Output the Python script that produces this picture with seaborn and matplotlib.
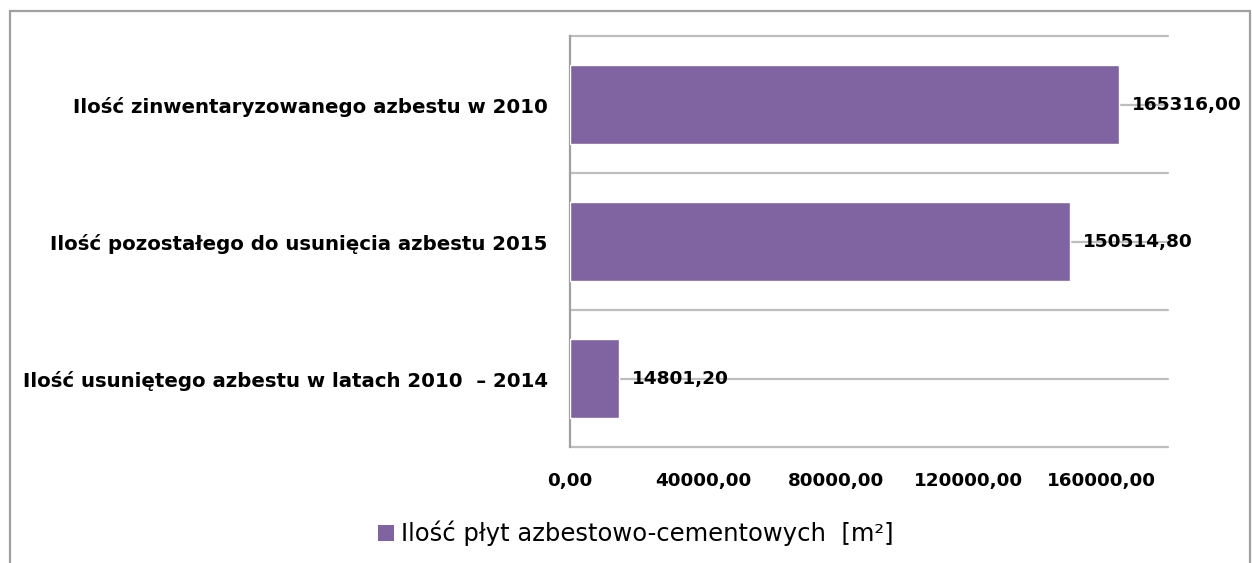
import matplotlib
matplotlib.use("Agg")
import matplotlib.pyplot as plt
import seaborn as sns
import pandas as pd
from matplotlib.patches import Patch, Rectangle
from matplotlib.ticker import FuncFormatter, MultipleLocator

categories = [
    "Ilość zinwentaryzowanego azbestu w 2010",
    "Ilość pozostałego do usunięcia azbestu 2015",
    "Ilość usuniętego azbestu w latach 2010  – 2014",
]
values = [165316.00, 150514.80, 14801.20]
series_label = "Ilość płyt azbestowo-cementowych  [m²]"
x_ticks = [0, 40000, 80000, 120000, 160000]

df = pd.DataFrame({"kategoria": categories, "wartosc": values})

sns.set_theme(style="white")
plt.rcParams["font.family"] = ["DejaVu Sans"]

BAR = "#8064A2"
GRID = "#BEBEBE"

fig = plt.figure(figsize=(12.52, 5.63), dpi=100)
ax = fig.add_axes([570 / 1252, 1 - 447 / 563, (1168 - 570) / 1252, (447 - 36) / 563])

sns.barplot(data=df, y="kategoria", x="wartosc", orient="h", color=BAR,
            width=0.57, saturation=1, ax=ax, zorder=3)

ax.set_xlim(0, 180000)
ax.set_ylim(2.5, -0.5)
ax.set_xticks(x_ticks)
ax.xaxis.set_major_formatter(FuncFormatter(lambda v, p: f"{v:.2f}".replace(".", ",")))
ax.yaxis.set_minor_locator(MultipleLocator(1, offset=0.5))
ax.set_axisbelow(True)
ax.yaxis.grid(True, which="both", color=GRID, linewidth=1.6)
ax.xaxis.grid(False)
for gl in ax.yaxis.get_gridlines() + ax.yaxis.get_minorticklines():
    gl.set_clip_on(False)
for t in ax.yaxis.get_minor_ticks() + ax.yaxis.get_major_ticks():
    t.gridline.set_clip_on(False)
ax.set_xlabel("")
ax.set_ylabel("")

for s in ["top", "right", "bottom"]:
    ax.spines[s].set_visible(False)
ax.spines["left"].set_color("#A0A0A0")
ax.spines["left"].set_linewidth(1.6)

ax.tick_params(axis="both", which="both", length=0)
ax.tick_params(axis="y", pad=16)
ax.tick_params(axis="x", pad=18)
for lab in ax.get_yticklabels():
    lab.set_fontweight("bold")
    lab.set_fontsize(14.2)
    lab.set_color("black")
for lab in ax.get_xticklabels():
    lab.set_fontweight("bold")
    lab.set_fontsize(13.2)
    lab.set_color("black")

for bar, v in zip(ax.patches, values):
    ax.annotate(f"{v:.2f}".replace(".", ","),
                xy=(bar.get_width(), bar.get_y() + bar.get_height() / 2),
                xytext=(9, 0), textcoords="offset points",
                ha="left", va="center", fontsize=13.3, fontweight="bold",
                color="black", zorder=4)

handle = Patch(facecolor=BAR, edgecolor="none")
leg = fig.legend([handle], [series_label], loc="center", bbox_to_anchor=(0.508, 0.052),
                 frameon=False, fontsize=17.5, handlelength=0.65, handleheight=0.65,
                 handletextpad=0.3)
for t in leg.get_texts():
    t.set_color("black")

fig.patches.append(Rectangle((10 / 1252, -0.05), (1250 - 10) / 1252, 1.05 - 11 / 563,
                             transform=fig.transFigure, fill=False,
                             edgecolor="#A0A0A0", linewidth=1.6, zorder=0))

fig.savefig("out.png", dpi=100, facecolor="white")
